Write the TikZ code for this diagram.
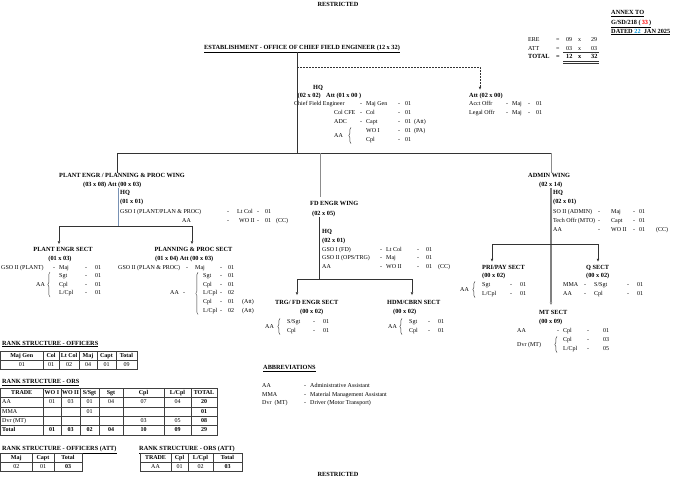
\documentclass[tikz,border=0pt]{standalone}
\usepackage{fontspec}
\setmainfont{Liberation Serif}
\usetikzlibrary{arrows.meta,decorations.pathreplacing}
\definecolor{steelln}{RGB}{120,145,180}
\definecolor{datecol}{RGB}{0,150,220}
\newcommand{\fsreg}{\fontsize{6.0}{7}\selectfont}
\newcommand{\fsbold}{\fontsize{6.3}{7}\selectfont\bfseries}
\newcommand{\fscellb}{\fontsize{6.0}{7}\selectfont\bfseries}
\tikzset{
  tx/.style={font=\fsreg, inner sep=0pt, text height=4.3pt, text depth=1.2pt, anchor=west},
  tb/.style={tx, font=\fsbold},
  tbc/.style={tb, anchor=center},
  cell/.style={font=\fsreg, inner sep=0pt, text height=4.3pt, text depth=1.2pt, anchor=center},
  cellb/.style={cell, font=\fscellb},
  link/.style={draw=black!80, line width=0.5pt},
  glink/.style={draw=black!45, line width=0.6pt},
  gthick/.style={draw=black!50, line width=1.1pt},
  blink/.style={draw=steelln, line width=0.6pt},
  tip/.style={-{Triangle[length=2.8pt,width=2.4pt]}},
  dashlink/.style={link, dash pattern=on 1.8pt off 1.2pt},
  brc/.style={draw=black!80, line width=0.4pt, decorate, decoration={brace, amplitude=2.2pt}},
  grid/.style={draw=black!75, line width=0.5pt},
}
\begin{document}
\begin{tikzpicture}[x=1pt,y=-1pt]
\fill[white] (0,0) rectangle (680,480);
\useasboundingbox (0,0) rectangle (680,480);

% ---------- header ----------
\node[tbc] (restrtop) at (338,4.5) {RESTRICTED};
\node[tbc] (restrbot) at (338,474.5) {RESTRICTED};
\node[tb] (annexa) at (611,13) {\underline{ANNEX TO}};
\node[tb] (annexb) at (611,22.5) {\underline{G/SD/218 (\,\textcolor{red}{33}\,)}};
\node[tb] (annexc) at (611,31.5) {\underline{DATED \textcolor{datecol}{22}\ \ JAN 2025}};

\node[tx] (erel) at (528,40) {ERE};
\node[tx] (ereq) at (556,40) {=};
\node[tx] (erea) at (566,40) {09};
\node[tx] (erex) at (578,40) {x};
\node[tx] (ereb) at (591,40) {29};
\node[tx] (attl) at (528,48.5) {ATT};
\node[tx] (attq) at (556,48.5) {=};
\node[tx] (atta) at (566,48.5) {03};
\node[tx] (attx) at (578,48.5) {x};
\node[tx] (attb) at (591,48.5) {03};
\node[tb] (totl) at (528,57) {TOTAL};
\node[tb] (totq) at (556,57) {=};
\node[tb] (tota) at (566,57) {12};
\node[tb] (totx) at (578,57) {x};
\node[tb] (totb) at (591,57) {32};
\draw[link] (563,52.6) -- (599,52.6);
\draw[link] (563,61) -- (599,61);
\draw[link] (563,62.8) -- (599,62.8);

\node[tbc] (title) at (302,47.5) {\underline{ESTABLISHMENT - OFFICE OF CHIEF FIELD ENGINEER (12 x 32)}};

% ---------- top HQ ----------
\node[tb] (hq0) at (313,87.5) {HQ};
\node[tb, fill=white] (hq0s) at (297.5,95.5) {(02 x 02)};
\node[tb] (hq0a) at (326,95.5) {Att (01 x 00 )};
\node[tx, fill=white] (cfe) at (294,104) {Chief Field Engineer};
\node[tx] (cfed1) at (360,104) {-};
\node[tx] (cfer) at (366,104) {Maj Gen};
\node[tx] (cfed2) at (398,104) {-};
\node[tx] (cfen) at (405,104) {01};
\node[tx] (colc) at (334,113) {Col CFE};
\node[tx] (colcd1) at (360,113) {-};
\node[tx] (colcr) at (366,113) {Col};
\node[tx] (colcd2) at (398,113) {-};
\node[tx] (colcn) at (405,113) {01};
\node[tx] (adc) at (334,122) {ADC};
\node[tx] (adcd1) at (360,122) {-};
\node[tx] (adcr) at (366,122) {Capt};
\node[tx] (adcd2) at (398,122) {-};
\node[tx] (adcn) at (405,122) {01};
\node[tx] (adce) at (414,122) {(Att)};
\node[tx] (aa0) at (334,135.5) {AA};
\draw[brc] (351,143.6) -- (351,127.4);
\node[tx] (woi) at (366,131) {WO I};
\node[tx] (woid) at (398,131) {-};
\node[tx] (woin) at (405,131) {01};
\node[tx] (woie) at (414,131) {(PA)};
\node[tx] (cpl0) at (366,140) {Cpl};
\node[tx] (cpl0d) at (398,140) {-};
\node[tx] (cpl0n) at (405,140) {01};

\node[tb] (att2h) at (469,95.5) {Att (02 x 00)};
\node[tx] (acct) at (469,104) {Acct Offr};
\node[tx] (acctd1) at (506,104) {-};
\node[tx] (acctr) at (512,104) {Maj};
\node[tx] (acctd2) at (528,104) {-};
\node[tx] (acctn) at (536,104) {01};
\node[tx] (legal) at (469,113) {Legal Offr};
\node[tx] (legald1) at (506,113) {-};
\node[tx] (legalr) at (512,113) {Maj};
\node[tx] (legald2) at (528,113) {-};
\node[tx] (legaln) at (536,113) {01};

% ---------- wings titles ----------
\node[tb] (pw) at (59,176) {PLANT ENGR / PLANNING \& PROC WING};
\node[tb] (pwsub) at (83,185) {(03 x 08) Att (00 x 03)};
\node[tb] (fw) at (310,204) {FD ENGR WING};
\node[tb] (fwsub) at (312,214) {(02 x 05)};
\node[tb] (aw) at (528,176) {ADMIN WING};
\node[tb] (awsub) at (539,185) {(02 x 14)};

% ---------- plant HQ ----------
\node[tb] (phq) at (120,193) {HQ};
\node[tb] (phqs) at (120,202) {(01 x 01)};
\node[tx] (pgso) at (120,212) {GSO I (PLANT/PLAN \& PROC)};
\node[tx] (pgsod1) at (227,212) {-};
\node[tx] (pgsor) at (237,212) {Lt Col};
\node[tx] (pgsod2) at (257,212) {-};
\node[tx] (pgson) at (265,212) {01};
\node[tx] (paa) at (182,221) {AA};
\node[tx] (paad1) at (227,221) {-};
\node[tx] (paar) at (239,221) {WO II};
\node[tx] (paad2) at (257,221) {-};
\node[tx] (paan) at (265,221) {01};
\node[tx] (paae) at (276,221) {(CC)};

% ---------- plant engr sect ----------
\node[tbc] (ps) at (63,250) {PLANT ENGR SECT};
\node[tbc] (pss) at (60,259) {(01 x 03)};
\node[tx] (psg) at (1,268) {GSO II (PLANT)};
\node[tx] (psgd1) at (53,268) {-};
\node[tx] (psgr) at (59,268) {Maj};
\node[tx] (psgd2) at (85,268) {-};
\node[tx] (psgn) at (95,268) {01};
\node[tx] (psaa) at (36,284.5) {AA};
\draw[brc] (50,297) -- (50,272);
\node[tx] (pss1) at (59,276) {Sgt};
\node[tx] (pss1d) at (85,276) {-};
\node[tx] (pss1n) at (95,276) {01};
\node[tx] (pss2) at (59,284.5) {Cpl};
\node[tx] (pss2d) at (85,284.5) {-};
\node[tx] (pss2n) at (95,284.5) {01};
\node[tx] (pss3) at (59,293) {L/Cpl};
\node[tx] (pss3d) at (85,293) {-};
\node[tx] (pss3n) at (95,293) {01};

% ---------- planning & proc sect ----------
\node[tbc] (pp) at (193.5,250) {PLANNING \& PROC SECT};
\node[tb] (pps) at (155,259) {(01 x 04) Att (00 x 03)};
\node[tx] (ppg) at (118,268) {GSO II (PLAN \& PROC)};
\node[tx] (ppgd1) at (186,268) {-};
\node[tx] (ppgr) at (195,268) {Maj};
\node[tx] (ppgd2) at (220,268) {-};
\node[tx] (ppgn) at (228,268) {01};
\node[tx] (ppaa) at (170,293.4) {AA};
\node[tx] (ppaad) at (183,293.4) {-};
\draw[brc] (198,314.5) -- (198,272.3);
\node[tx] (pp1) at (203,276) {Sgt};
\node[tx] (pp1d) at (220,276) {-};
\node[tx] (pp1n) at (228,276) {01};
\node[tx] (pp2) at (203,284.7) {Cpl};
\node[tx] (pp2d) at (220,284.7) {-};
\node[tx] (pp2n) at (228,284.7) {01};
\node[tx] (pp3) at (203,293.4) {L/Cpl};
\node[tx] (pp3d) at (220,293.4) {-};
\node[tx] (pp3n) at (228,293.4) {02};
\node[tx] (pp4) at (203,302.1) {Cpl};
\node[tx] (pp4d) at (220,302.1) {-};
\node[tx] (pp4n) at (228,302.1) {01};
\node[tx] (pp4e) at (242,302.1) {(Att)};
\node[tx] (pp5) at (203,310.8) {L/Cpl};
\node[tx] (pp5d) at (220,310.8) {-};
\node[tx] (pp5n) at (228,310.8) {02};
\node[tx] (pp5e) at (242,310.8) {(Att)};

% ---------- FD HQ ----------
\node[tb] (fhq) at (322,232) {HQ};
\node[tb] (fhqs) at (322,241) {(02 x 01)};
\node[tx] (fg1) at (322,249.5) {GSO I (FD)};
\node[tx] (fg1d1) at (380,249.5) {-};
\node[tx] (fg1r) at (386,249.5) {Lt Col};
\node[tx] (fg1d2) at (417,249.5) {-};
\node[tx] (fg1n) at (426,249.5) {01};
\node[tx] (fg2) at (322,258.3) {GSO II (OPS/TRG)};
\node[tx] (fg2d1) at (380,258.3) {-};
\node[tx] (fg2r) at (386,258.3) {Maj};
\node[tx] (fg2d2) at (417,258.3) {-};
\node[tx] (fg2n) at (426,258.3) {01};
\node[tx] (fg3) at (322,267) {AA};
\node[tx] (fg3d1) at (380,267) {-};
\node[tx] (fg3r) at (386,267) {WO II};
\node[tx] (fg3d2) at (417,267) {-};
\node[tx] (fg3n) at (426,267) {01};
\node[tx] (fg3e) at (438,267) {(CC)};

% ---------- TRG / HDM sects ----------
\node[tb] (trg) at (275,303) {TRG/ FD ENGR SECT};
\node[tb] (trgs) at (300,312) {(00 x 02)};
\node[tx] (trgaa) at (265,326.5) {AA};
\draw[brc] (280,334.6) -- (280,318.4);
\node[tx] (trg1) at (287,322) {S/Sgt};
\node[tx] (trg1d) at (313,322) {-};
\node[tx] (trg1n) at (323,322) {01};
\node[tx] (trg2) at (287,331) {Cpl};
\node[tx] (trg2d) at (313,331) {-};
\node[tx] (trg2n) at (323,331) {01};
\node[tb] (hdm) at (387,303) {HDM/CBRN SECT};
\node[tb] (hdms) at (393,312) {(00 x 02)};
\node[tx] (hdmaa) at (388,326.5) {AA};
\draw[brc] (402,334.6) -- (402,318.4);
\node[tx] (hdm1) at (409,322) {Sgt};
\node[tx] (hdm1d) at (428,322) {-};
\node[tx] (hdm1n) at (438,322) {01};
\node[tx] (hdm2) at (409,331) {Cpl};
\node[tx] (hdm2d) at (428,331) {-};
\node[tx] (hdm2n) at (438,331) {01};

% ---------- admin HQ ----------
\node[tb] (ahq) at (553,193) {HQ};
\node[tb] (ahqs) at (553,202) {(02 x 01)};
\node[tx] (a1) at (553,212) {SO II (ADMIN)};
\node[tx] (a1d1) at (598,212) {-};
\node[tx] (a1r) at (611,212) {Maj};
\node[tx] (a1d2) at (633,212) {-};
\node[tx] (a1n) at (639,212) {01};
\node[tx] (a2) at (553,221) {Tech Offr (MTO)};
\node[tx] (a2d1) at (598,221) {-};
\node[tx] (a2r) at (611,221) {Capt};
\node[tx] (a2d2) at (633,221) {-};
\node[tx] (a2n) at (639,221) {01};
\node[tx] (a3) at (553,229.5) {AA};
\node[tx] (a3d1) at (598,229.5) {-};
\node[tx] (a3r) at (611,229.5) {WO II};
\node[tx] (a3d2) at (633,229.5) {-};
\node[tx] (a3n) at (639,229.5) {01};
\node[tx] (a3e) at (656,229.5) {(CC)};

% ---------- PRI/PAY, Q, MT ----------
\node[tb] (pri) at (482,267.5) {PRI/PAY SECT};
\node[tb] (pris) at (482,276) {(00 x 02)};
\node[tx] (priaa) at (460,289.5) {AA};
\draw[brc] (475,297.6) -- (475,281.4);
\node[tx] (pri1) at (482,285) {Sgt};
\node[tx] (pri1d) at (510,285) {-};
\node[tx] (pri1n) at (520,285) {01};
\node[tx] (pri2) at (482,294) {L/Cpl};
\node[tx] (pri2d) at (510,294) {-};
\node[tx] (pri2n) at (520,294) {01};

\node[tb] (qs) at (586,267.5) {Q SECT};
\node[tb] (qss) at (586,276) {(00 x 02)};
\node[tx] (q1) at (563,285) {MMA};
\node[tx] (q1d1) at (584,285) {-};
\node[tx] (q1r) at (594,285) {S/Sgt};
\node[tx] (q1d2) at (627,285) {-};
\node[tx] (q1n) at (637,285) {01};
\node[tx] (q2) at (563,294) {AA};
\node[tx] (q2d1) at (584,294) {-};
\node[tx] (q2r) at (594,294) {Cpl};
\node[tx] (q2d2) at (627,294) {-};
\node[tx] (q2n) at (637,294) {01};

\node[tb] (mt) at (539,313) {MT SECT};
\node[tb] (mts) at (539,322) {(00 x 09)};
\node[tx] (mt1) at (517,331) {AA};
\node[tx] (mt1d1) at (557,331) {-};
\node[tx] (mt1r) at (563,331) {Cpl};
\node[tx] (mt1d2) at (587,331) {-};
\node[tx] (mt1n) at (603,331) {01};
\node[tx] (mtdvr) at (517,344.5) {Dvr (MT)};
\draw[brc] (557,352.6) -- (557,336.4);
\node[tx] (mt2) at (563,340) {Cpl};
\node[tx] (mt2d) at (587,340) {-};
\node[tx] (mt2n) at (603,340) {03};
\node[tx] (mt3) at (563,349) {L/Cpl};
\node[tx] (mt3d) at (587,349) {-};
\node[tx] (mt3n) at (603,349) {05};

% ---------- connectors ----------
\coordinate (j0) at (297,153);
\coordinate (d0) at (297,67);
\coordinate (d1) at (480,67);
\coordinate (bl) at (117,153);
\coordinate (bm) at (320,153);
\coordinate (br) at (551,153);
\draw[link, shorten <=2pt] (title.south -| j0) -- (j0);
\draw[dashlink, tip, shorten >=3pt] (d0) -- (d1) -- (att2h.north -| d1);
\draw[link] (bl) -- (br);
\draw[link] (bl) -- (pw.north -| bl);
\draw[glink, shorten >=4pt] (bm) -- (fw.north -| bm);
\draw[glink] (br) -- (aw.north -| br);

\coordinate (pj) at (118,226);
\coordinate (pl) at (59,226);
\coordinate (pr) at (192,226);
\draw[blink] (pwsub.south -| pj) -- (pj);
\draw[link] (pl) -- (pr);
\draw[link, tip, shorten >=3pt] (pl) -- (ps.north -| pl);
\draw[link, tip, shorten >=3pt] (pr) -- (pp.north -| pr);

\coordinate (fj) at (319,279);
\coordinate (fl) at (297,279);
\coordinate (fr) at (412,279);
\draw[link] (fwsub.south -| fj) -- (fj);
\draw[link] (fl) -- (fr);
\draw[link, tip, shorten >=5pt] (fl) -- (trg.north -| fl);
\draw[link, tip, shorten >=5pt] (fr) -- (hdm.north -| fr);

\coordinate (aj) at (551,244);
\coordinate (al) at (492,244);
\coordinate (ar) at (598,244);
\draw[gthick, tip, shorten >=5pt] (awsub.south -| aj) -- (mt.north -| aj);
\draw[link] (al) -- (ar);
\draw[link, tip, shorten >=3pt] (al) -- (pri.north -| al);
\draw[link, tip, shorten >=3pt] (ar) -- (qs.north -| ar);

% ---------- abbreviations ----------
\node[tb] (abbr) at (263,368) {\underline{ABBREVIATIONS}};
\node[tx] (ab1) at (262,386) {AA};
\node[tx] (ab1d) at (304,386) {-};
\node[tx] (ab1t) at (310,386) {Administrative Assistant};
\node[tx] (ab2) at (262,394.5) {MMA};
\node[tx] (ab2d) at (304,394.5) {-};
\node[tx] (ab2t) at (310,394.5) {Material Management Assistant};
\node[tx] (ab3) at (262,403) {Dvr\ \ (MT)};
\node[tx] (ab3d) at (304,403) {-};
\node[tx] (ab3t) at (310,403) {Driver (Motor Transport)};

% ---------- rank structure - officers ----------
\node[tb] (rso) at (2,343.5) {\underline{RANK STRUCTURE - OFFICERS}};
\draw[grid] (0.5,351.5) rectangle (137,369.5);
\draw[grid] (0.5,360.5) -- (137,360.5);
\foreach \xx in {43,59,79,97,116} \draw[grid] (\xx,351.5) -- (\xx,369.5);
\foreach \cx/\tx [count=\i] in {21.75/Maj Gen, 51/Col, 69/Lt Col, 88/Maj, 106.5/Capt, 126.5/Total}
  \node[cellb] (oh\i) at (\cx,356) {\tx};
\foreach \cx/\tx [count=\i] in {21.75/01, 51/01, 69/02, 88/04, 106.5/01, 126.5/09}
  \node[cell] (od\i) at (\cx,365) {\tx};

% ---------- rank structure - ORs ----------
\node[tb] (rsr) at (2,382) {\underline{RANK STRUCTURE - ORS}};
\draw[grid] (0.5,388) rectangle (217,435);
\foreach \yy in {397.4,406.8,416.2,425.6} \draw[grid] (0.5,\yy) -- (217,\yy);
\foreach \xx in {43,61,80,99,123,164,191} \draw[grid] (\xx,388) -- (\xx,435);
\foreach \cx/\tx [count=\i] in {21.75/TRADE, 52/WO I, 70.5/WO II, 89.5/{S/Sgt}, 111/Sgt, 143.5/Cpl, 177.5/{L/Cpl}, 204/TOTAL}
  \node[cellb] (rh\i) at (\cx,392.7) {\tx};
\node[cell, anchor=west] (ra0) at (2,402.1) {AA};
\foreach \cx/\tx [count=\i] in {52/01, 70.5/03, 89.5/01, 111/04, 143.5/07, 177.5/04}
  \node[cell] (ra\i) at (\cx,402.1) {\tx};
\node[cellb] (rat) at (204,402.1) {20};
\node[cell, anchor=west] (rm0) at (2,411.5) {MMA};
\node[cell] (rm1) at (89.5,411.5) {01};
\node[cellb] (rmt) at (204,411.5) {01};
\node[cell, anchor=west] (rd0) at (2,420.9) {Dvr (MT)};
\node[cell] (rd1) at (143.5,420.9) {03};
\node[cell] (rd2) at (177.5,420.9) {05};
\node[cellb] (rdt) at (204,420.9) {08};
\node[cellb, anchor=west] (rt0) at (2,430.3) {Total};
\foreach \cx/\tx [count=\i] in {52/01, 70.5/03, 89.5/02, 111/04, 143.5/10, 177.5/09, 204/29}
  \node[cellb] (rt\i) at (\cx,430.3) {\tx};

% ---------- ATT tables ----------
\node[tb] (rsoa) at (2,449) {\underline{RANK STRUCTURE - OFFICERS (ATT)}};
\draw[grid] (0.5,453.5) rectangle (82,471.5);
\draw[grid] (0.5,462.5) -- (82,462.5);
\foreach \xx in {32,54} \draw[grid] (\xx,453.5) -- (\xx,471.5);
\foreach \cx/\tx [count=\i] in {16.25/Maj, 43/Capt, 68/Total}
  \node[cellb] (oah\i) at (\cx,458) {\tx};
\node[cell] (oad1) at (16.25,467) {02};
\node[cell] (oad2) at (43,467) {01};
\node[cellb] (oad3) at (68,467) {03};

\node[tb] (rsra) at (139,449) {\underline{RANK STRUCTURE - ORS (ATT)}};
\draw[grid] (140,453.5) rectangle (242,471.5);
\draw[grid] (140,462.5) -- (242,462.5);
\foreach \xx in {171,188,213} \draw[grid] (\xx,453.5) -- (\xx,471.5);
\foreach \cx/\tx [count=\i] in {155.5/TRADE, 179.5/Cpl, 200.5/{L/Cpl}, 227.5/Total}
  \node[cellb] (rah\i) at (\cx,458) {\tx};
\node[cell] (rad1) at (155.5,467) {AA};
\node[cell] (rad2) at (179.5,467) {01};
\node[cell] (rad3) at (200.5,467) {02};
\node[cellb] (rad4) at (227.5,467) {03};

\end{tikzpicture}
\end{document}
